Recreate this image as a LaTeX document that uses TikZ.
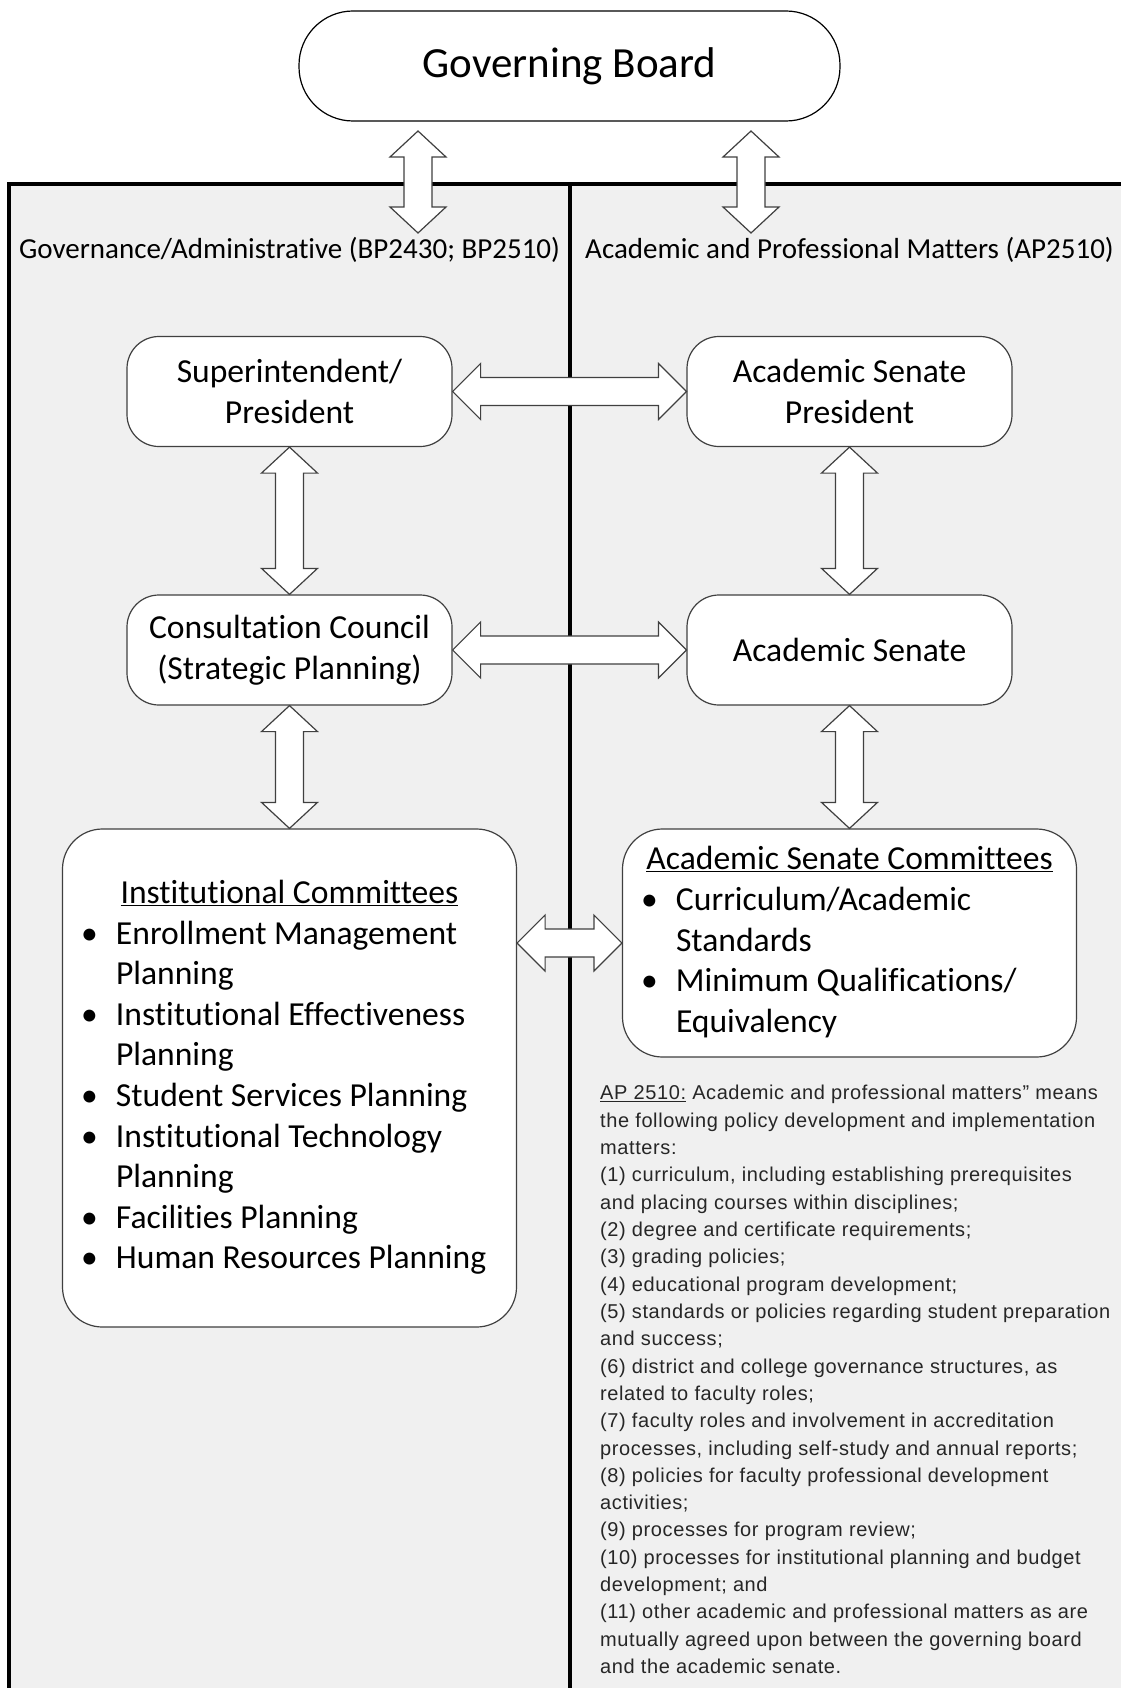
\documentclass[tikz,border=0pt]{standalone}
\usepackage{fontspec}
\setmainfont{Carlito}[Ligatures=NoCommon]
\newfontfamily\apfont{Liberation Sans}[LetterSpace=3]
\usetikzlibrary{positioning, calc}

\definecolor{panelgray}{HTML}{F0F0F0}
\definecolor{edgegray}{HTML}{404040}
\definecolor{textgray}{HTML}{262626}

\tikzstyle{board} = [rectangle, rounded corners=54pt, minimum width=541pt, minimum height=110pt, draw=black, line width=1.2pt, fill=white, font=\fontsize{43}{50}\selectfont]
\tikzstyle{unit} = [rectangle, rounded corners=32pt, minimum width=325pt, minimum height=110pt, draw=edgegray, line width=1.2pt, fill=white, align=center, font=\fontsize{33.6}{40.6}\selectfont]
\tikzstyle{cmte} = [unit, rounded corners=40pt, minimum width=454pt, inner sep=0pt]
\tikzstyle{header} = [font=\fontsize{29}{34}\selectfont]
\tikzstyle{aptext} = [align=left, inner sep=0pt, text=textgray, font=\apfont\fontsize{20}{27.33}\selectfont]
\tikzstyle{hollow} = [draw=edgegray, line width=1.2pt, fill=white, line join=miter]
\tikzstyle{frame} = [line width=3.5pt]

% hollow double arrows, top-to-bottom and left-to-right
\newcommand{\vlink}[2]{\draw[hollow] let \p1=(#1), \p2=(#2) in
  (\x1,\y1) -- (\x1+28pt,\y1-26pt) -- (\x1+14pt,\y1-26pt) -- (\x1+14pt,\y2+26pt) -- (\x1+28pt,\y2+26pt) -- (\x1,\y2)
  -- (\x1-28pt,\y2+26pt) -- (\x1-14pt,\y2+26pt) -- (\x1-14pt,\y1-26pt) -- (\x1-28pt,\y1-26pt) -- cycle;}
\newcommand{\hlink}[2]{\draw[hollow] let \p1=(#1), \p2=(#2) in
  (\x1,\y1) -- (\x1+28pt,\y1+28pt) -- (\x1+28pt,\y1+14pt) -- (\x2-28pt,\y1+14pt) -- (\x2-28pt,\y1+28pt) -- (\x2,\y1)
  -- (\x2-28pt,\y1-28pt) -- (\x2-28pt,\y1-14pt) -- (\x1+28pt,\y1-14pt) -- (\x1+28pt,\y1-28pt) -- cycle;}
\newcommand{\cmtelist}[2]{\begin{tabular}{@{}p{35pt}@{}p{382pt}@{}}\multicolumn{2}{@{}c@{}}{\underline{#1}}\\#2\end{tabular}}

\begin{document}
\begin{tikzpicture}[x=1pt, y=-1pt]

	\useasboundingbox (0,0) rectangle (1121,1688);
	\fill[panelgray] (9,184) rectangle (1121,1688);
	\draw[frame] (9,1688) -- (9,184) -- (1121,184);
	\draw[frame] (570,184) -- (570,1688);

	\node (gb) [board] at (569.5,66) {Governing Board};

	\node (gov) [header] at (289.5,250) {Governance/Administrative (BP2430; BP2510)};
	\node (apm) [header, right of=gov, node distance=560pt] {Academic and Professional Matters (AP2510)};

	\node (sp) [unit] at (289.5,391.5) {Superintendent/\\President};
	\node (asp) [unit, right of=sp, node distance=560pt] {Academic Senate\\President};
	\node (cc) [unit, below of=sp, node distance=258.5pt] {Consultation Council\\(Strategic Planning)};
	\node (as) [unit, below of=asp, node distance=258.5pt] {Academic Senate};

	\node (ic) [cmte, minimum height=498pt, below of=cc, node distance=428pt] {\cmtelist{Institutional Committees}{%
		\textbullet & Enrollment Management\\ & Planning\\
		\textbullet & Institutional Effectiveness\\ & Planning\\
		\textbullet & Student Services Planning\\
		\textbullet & Institutional Technology\\ & Planning\\
		\textbullet & Facilities Planning\\
		\textbullet & Human Resources Planning}};
	\node (asc) [cmte, minimum height=228pt, below of=as, node distance=293pt] {\cmtelist{Academic Senate Committees}{%
		\textbullet & Curriculum/Academic\\ & Standards\\
		\textbullet & Minimum Qualifications/\\ & Equivalency}};

	\node (ap) [aptext, anchor=north west] at (600,1085) {\underline{AP 2510:} Academic and professional matters” means\\
		the following policy development and implementation\\
		matters:\\
		(1) curriculum, including establishing prerequisites\\
		and placing courses within disciplines;\\
		(2) degree and certificate requirements;\\
		(3) grading policies;\\
		(4) educational program development;\\
		(5) standards or policies regarding student preparation\\
		and success;\\
		(6) district and college governance structures, as\\
		related to faculty roles;\\
		(7) faculty roles and involvement in accreditation\\
		processes, including self-study and annual reports;\\
		(8) policies for faculty professional development\\
		activities;\\
		(9) processes for program review;\\
		(10) processes for institutional planning and budget\\
		development; and\\
		(11) other academic and professional matters as are\\
		mutually agreed upon between the governing board\\
		and the academic senate.};

	\coordinate (gbl) at (418,131);
	\coordinate (govl) at (418,233);
	\coordinate (gbr) at (751,131);
	\coordinate (apml) at (751,233);

	\vlink{gbl}{govl}
	\vlink{gbr}{apml}
	\hlink{sp.east}{asp.west}
	\hlink{cc.east}{as.west}
	\hlink{ic.east |- asc.west}{asc.west}
	\vlink{sp.south}{cc.north}
	\vlink{asp.south}{as.north}
	\vlink{cc.south}{ic.north}
	\vlink{as.south}{asc.north}
\end{tikzpicture}
\end{document}
